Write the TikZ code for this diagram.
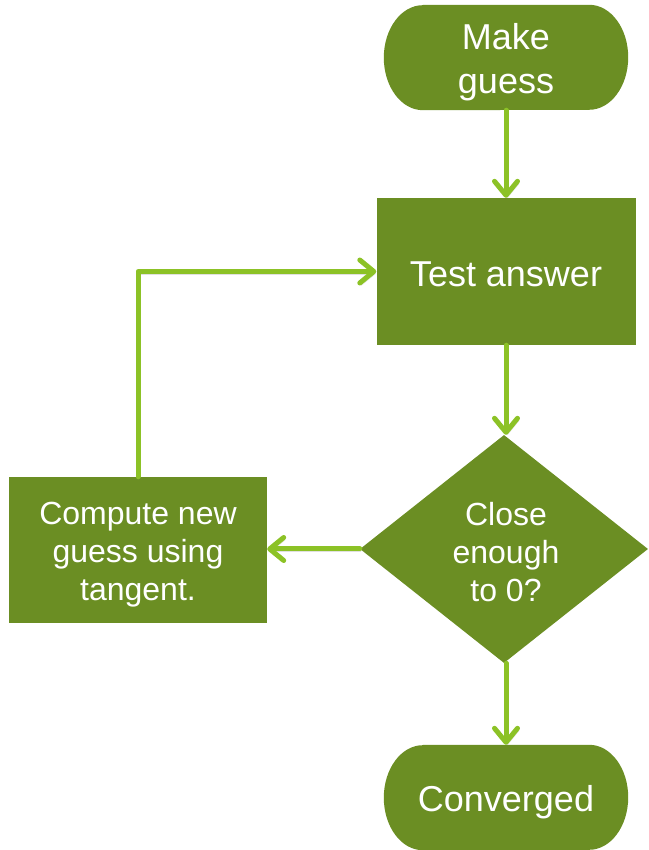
\documentclass[tikz,border=0pt]{standalone}
\usepackage{fontspec}
\setmainfont{Liberation Sans}
\usetikzlibrary{arrows.meta,shapes.geometric}
\definecolor{boxgreen}{RGB}{107,142,35}
\definecolor{linkgreen}{RGB}{140,194,38}
\pgfdeclarelayer{background}
\pgfsetlayers{background,main}

\begin{document}
\begin{tikzpicture}[x=1pt,y=1pt,
  box/.style={fill=boxgreen,inner sep=0pt},
  terminal/.style={inner sep=0pt,minimum width=244pt,minimum height=105pt},
  caption/.style={text=white,align=center,inner sep=0pt},
  bigtext/.style={font=\fontsize{36}{44}\selectfont},
  smalltext/.style={font=\fontsize{32}{38}\selectfont},
  link/.style={draw=linkgreen,line width=5pt,line cap=round,line join=round,
    -{Straight Barb[length=14pt,width=23pt,round]},
    preaction={draw=black,opacity=0.12,
      transform canvas={shift={(1.5pt,-2.5pt)}}}}
]
\useasboundingbox (0,0) rectangle (648,850);

% shapes
\node[terminal] (guess) at (506,792.5) {};
\node[box,minimum width=259pt,minimum height=147pt] (test) at (506,578.5) {};
\node[box,shape=diamond,minimum width=288pt,minimum height=228pt] (dec) at (504,301) {};
\node[box,minimum width=258pt,minimum height=146pt] (comp) at (138,300) {};
\node[terminal] (conv) at (506,52.5) {};

% texts
\node[caption,bigtext] (guesstext) at (506,788) {Make\\guess};
\node[caption,bigtext] (testtext) at (506,576) {Test answer};
\node[caption,smalltext] (dectext) at (506,298) {Close\\enough\\to 0?};
\node[caption,smalltext] (comptext) at (138,295) {Compute new\\guess using\\tangent.};
\node[caption,bigtext] (convtext) at (506,48) {Converged};

% terminator outlines
\begin{pgfonlayer}{background}
\foreach \t in {guess,conv}{
  \fill[boxgreen] ([xshift=39pt]\t.north west) -- ([xshift=-39pt]\t.north east)
    arc[start angle=90,end angle=-90,x radius=39pt,y radius=52.5pt]
    -- ([xshift=39pt]\t.south west)
    arc[start angle=270,end angle=90,x radius=39pt,y radius=52.5pt] -- cycle;
}
\end{pgfonlayer}

% connectors
\draw[link] (guess.south) -- (test.north);
\draw[link] (test.south) -- (test.south |- dec.north);
\draw[link] (conv.north |- dec.south) -- (conv.north);
\draw[link] (dec.west) -- (dec.west -| comp.east);
\draw[link] (comp.north) |- (test.west);
\end{tikzpicture}
\end{document}
